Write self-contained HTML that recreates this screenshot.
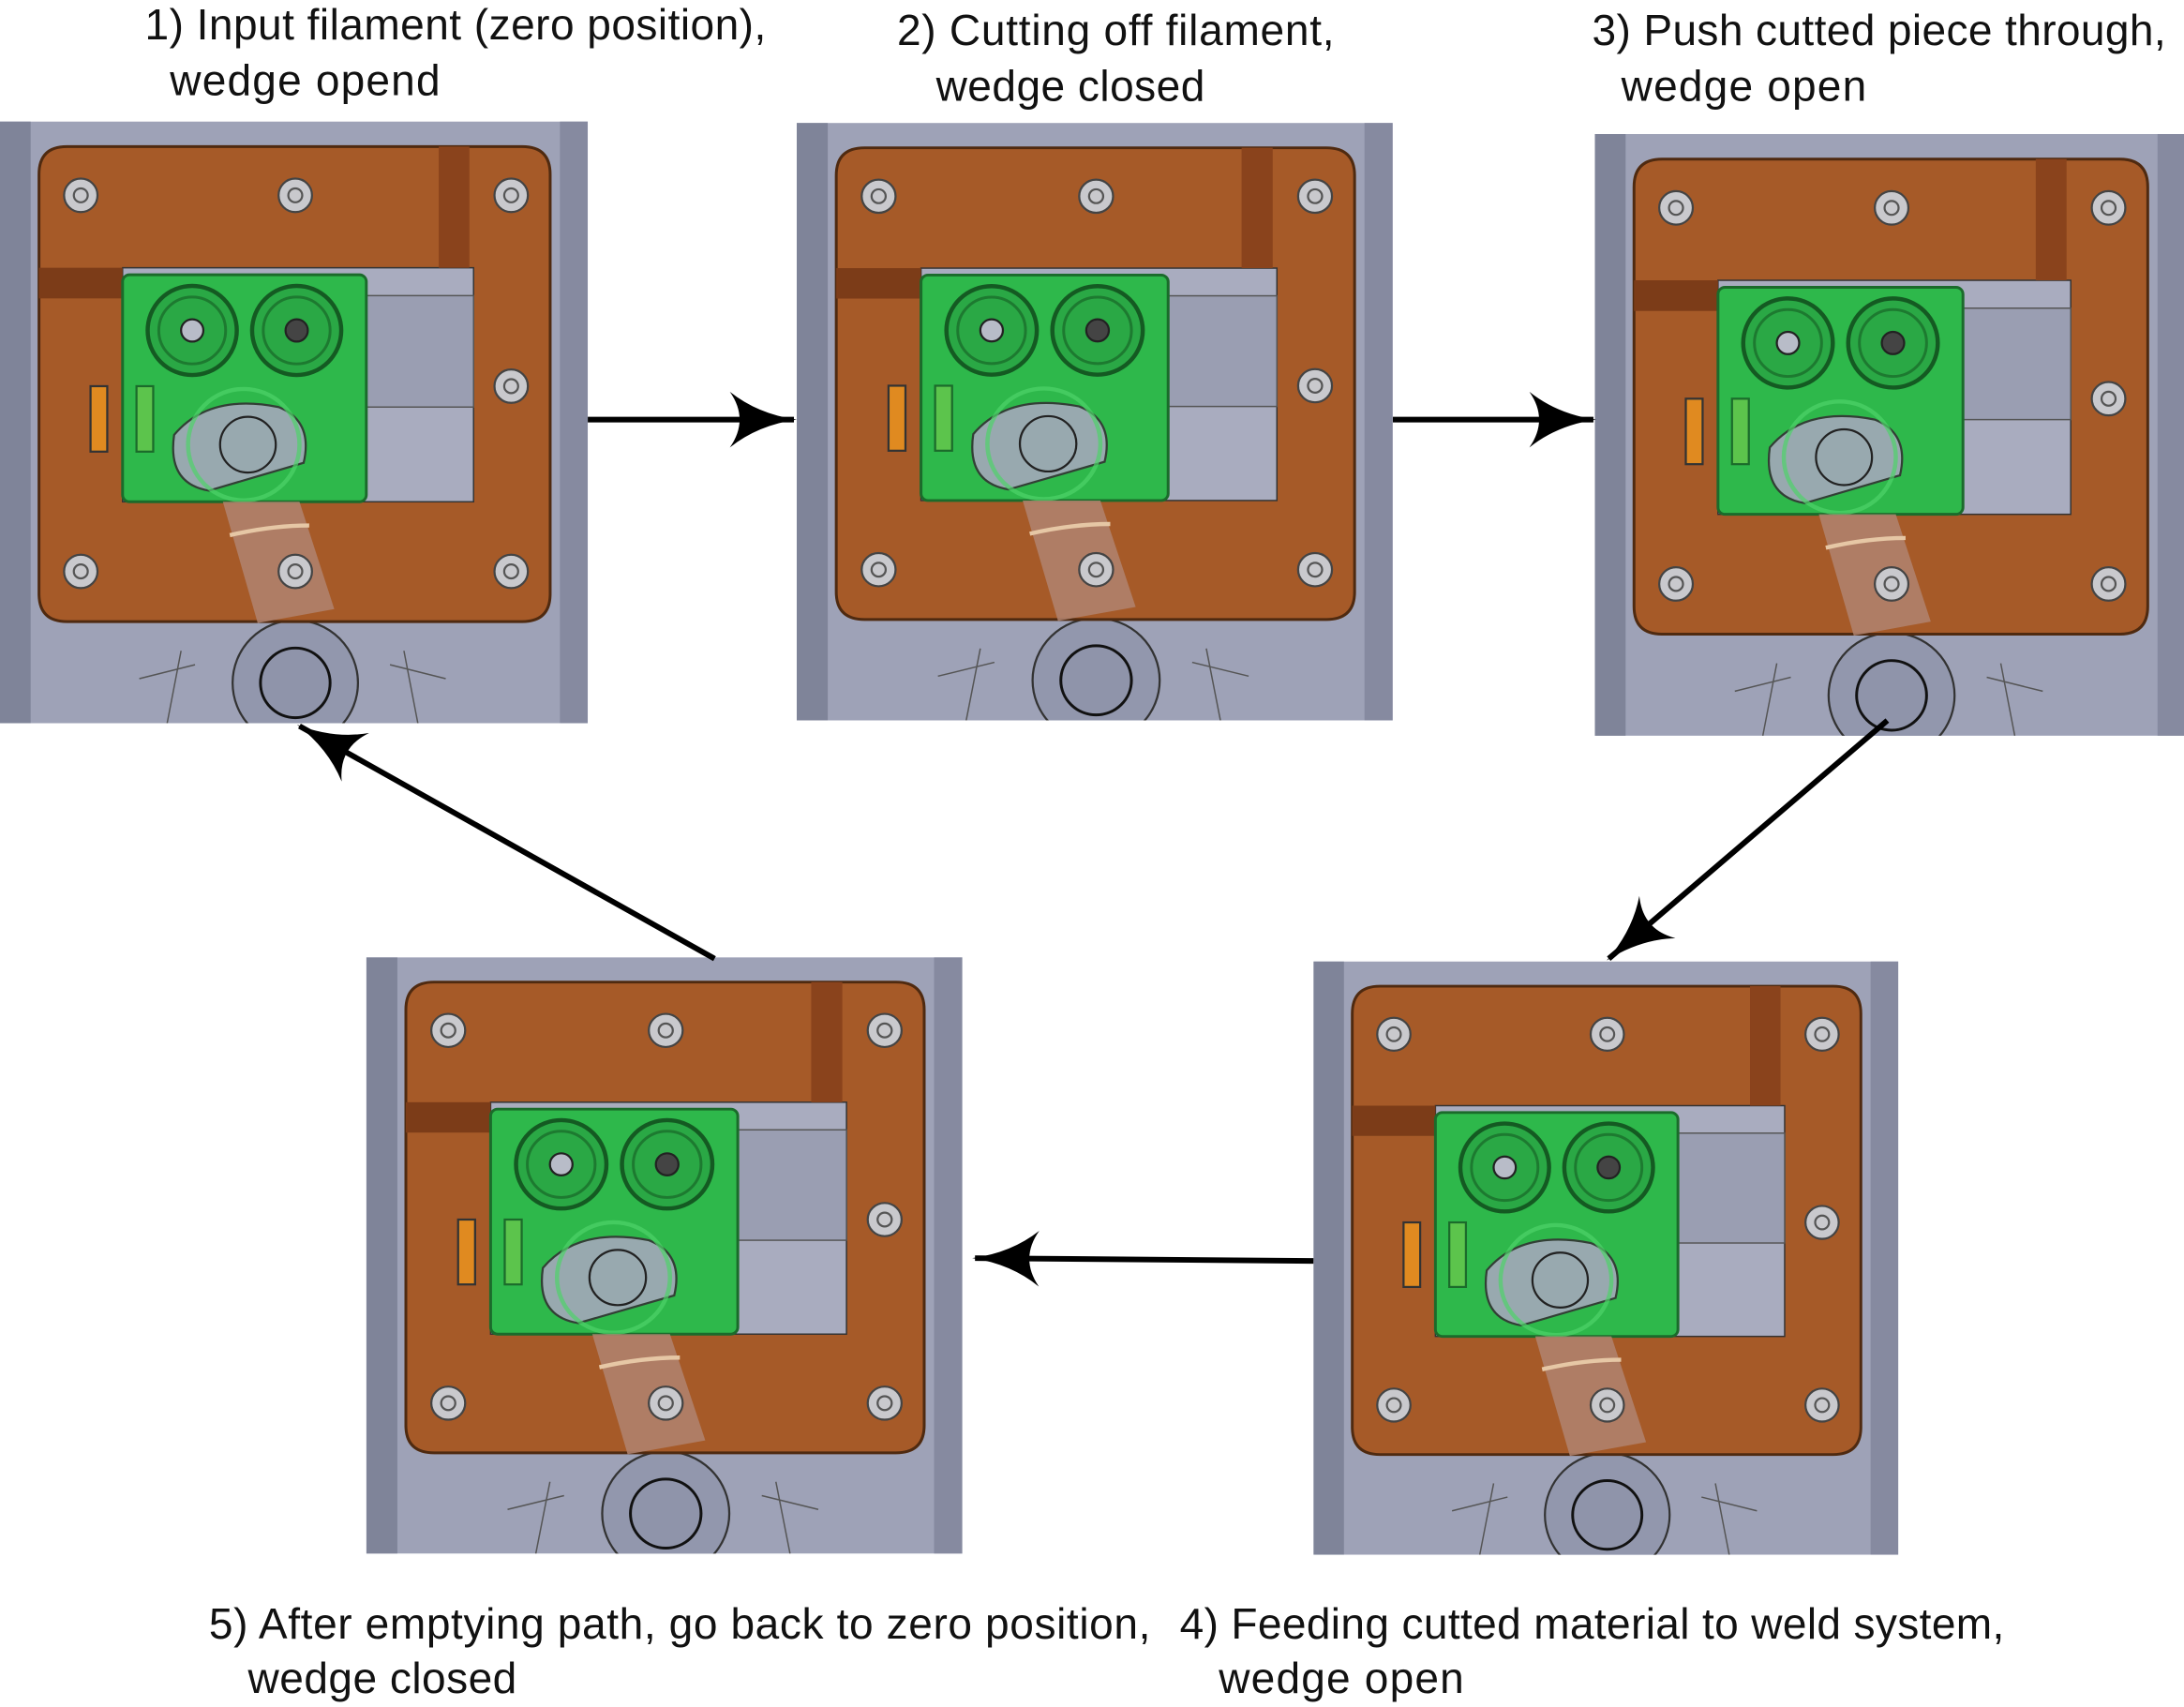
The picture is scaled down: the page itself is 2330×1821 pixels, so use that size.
<!DOCTYPE html>
<html><head><meta charset="utf-8">
<style>
html,body{margin:0;padding:0;background:#fff;}
svg{display:block;}
text{font-family:"Liberation Sans",sans-serif;font-size:31px;fill:#111;}
</style></head>
<body>
<svg width="2330" height="1821" viewBox="0 0 1568 1225" xmlns="http://www.w3.org/2000/svg">
<defs>
  <marker id="ah" viewBox="0 0 48 40" refX="46" refY="20" markerWidth="48" markerHeight="40" markerUnits="userSpaceOnUse" orient="auto">
    <path d="M0,0 Q20,16 48,20 Q20,24 0,40 Q14,20 0,0 Z" fill="#000"/>
  </marker>
  <clipPath id="pc"><rect x="0" y="0" width="422" height="432"/></clipPath>
  <g id="panel">
    <g clip-path="url(#pc)">
    <rect x="0" y="0" width="422" height="432" fill="#9ea2b7"/>
    <rect x="0" y="0" width="22" height="432" fill="#7f8499"/>
    <rect x="402" y="0" width="20" height="432" fill="#868aa0"/>
    <circle cx="212" cy="403" r="45" fill="#9297ad" stroke="#333" stroke-width="1.5"/>
    <circle cx="212" cy="403" r="25" fill="#8f94aa" stroke="#111" stroke-width="2"/>
    <path d="M120,432 L130,380 M300,432 L290,380 M100,400 L140,390 M320,400 L280,390" stroke="#555" fill="none"/>
    <path d="M28,38 Q28,18 48,18 L375,18 Q395,18 395,38 L395,339 Q395,359 375,359 L48,359 Q28,359 28,339 Z" fill="#a65a28" stroke="#4f2a10" stroke-width="2"/>
    <rect x="88" y="105" width="252" height="168" fill="#a9acbf" stroke="#333" stroke-width="1"/>
    <rect x="262" y="125" width="78" height="80" fill="#9a9eb2" stroke="#555" stroke-width="1"/>
    <rect x="315" y="18" width="22" height="87" fill="#8a431c"/>
    <rect x="28" y="105" width="60" height="22" fill="#7c3c18"/>
    <rect x="88" y="110" width="175" height="163" rx="5" fill="#2eb84b" stroke="#1b6b2b" stroke-width="2"/>
    <circle cx="138" cy="150" r="32" fill="#2aa845" stroke="#145a22" stroke-width="3"/>
    <circle cx="138" cy="150" r="24" fill="none" stroke="#1d7a30" stroke-width="2"/>
    <circle cx="138" cy="150" r="8" fill="#b8bcc8" stroke="#222" stroke-width="1.5"/>
    <circle cx="213" cy="150" r="32" fill="#2aa845" stroke="#145a22" stroke-width="3"/>
    <circle cx="213" cy="150" r="24" fill="none" stroke="#1d7a30" stroke-width="2"/>
    <circle cx="213" cy="150" r="8" fill="#444" stroke="#222" stroke-width="1.5"/>
    <path d="M125,225 Q150,195 200,205 Q225,215 218,245 L150,265 Q120,260 125,225 Z" fill="#a4a8ba" stroke="#333" stroke-width="1.5" opacity="0.9"/>
    <circle cx="178" cy="232" r="20" fill="none" stroke="#222" stroke-width="1.5"/>
    <circle cx="175" cy="232" r="40" fill="none" stroke="#4fd36a" stroke-width="3" opacity="0.7"/>
    <path d="M160,273 L215,273 L240,350 L185,360 Z" fill="#b08470" opacity="0.85"/>
    <path d="M165,297 Q195,290 222,290" stroke="#e6c7a5" stroke-width="3" fill="none"/>
    <rect x="65" y="190" width="12" height="47" fill="#e08a20" stroke="#333" stroke-width="1.5"/>
    <rect x="98" y="190" width="12" height="47" fill="#5cc44c" stroke="#1b6b2b" stroke-width="1.5"/>
    <g fill="#c9c9cd" stroke="#444" stroke-width="1.5">
      <circle cx="58" cy="53" r="12"/><circle cx="212" cy="53" r="12"/><circle cx="367" cy="53" r="12"/>
      <circle cx="367" cy="190" r="12"/><circle cx="58" cy="323" r="12"/><circle cx="212" cy="323" r="12"/><circle cx="367" cy="323" r="12"/>
    </g>
    <g fill="none" stroke="#555" stroke-width="1.5">
      <circle cx="58" cy="53" r="5"/><circle cx="212" cy="53" r="5"/><circle cx="367" cy="53" r="5"/>
      <circle cx="367" cy="190" r="5"/><circle cx="58" cy="323" r="5"/><circle cx="212" cy="323" r="5"/><circle cx="367" cy="323" r="5"/>
    </g>
    </g>
  </g>
</defs>

<use href="#panel" transform="translate(0,87)"/>
<use href="#panel" transform="translate(572,88) scale(1.014,0.993)"/>
<use href="#panel" transform="translate(1145,96) scale(1.005,1)"/>
<use href="#panel" transform="translate(943,690) scale(0.995,0.986)"/>
<use href="#panel" transform="translate(263,687) scale(1.014,0.991)"/>

<g stroke="#000" stroke-width="4" fill="none">
  <line x1="422" y1="301" x2="570" y2="301" marker-end="url(#ah)"/>
  <line x1="1000" y1="301" x2="1144" y2="301" marker-end="url(#ah)"/>
  <line x1="1355" y1="517" x2="1155" y2="688" marker-end="url(#ah)"/>
  <line x1="943" y1="905" x2="700" y2="903" marker-end="url(#ah)"/>
  <line x1="513" y1="688" x2="215" y2="521" marker-end="url(#ah)"/>
</g>

<text><tspan x="104" y="28" textLength="446">1) Input filament (zero position),</tspan><tspan x="122" y="68" textLength="194">wedge opend</tspan></text>
<text><tspan x="644" y="32" textLength="314">2) Cutting off filament,</tspan><tspan x="672" y="72" textLength="193">wedge closed</tspan></text>
<text><tspan x="1143" y="32" textLength="412">3) Push cutted piece through,</tspan><tspan x="1164" y="72" textLength="176">wedge open</tspan></text>
<text><tspan x="150" y="1176" textLength="676">5) After emptying path, go back to zero position,</tspan><tspan x="178" y="1215" textLength="193">wedge closed</tspan></text>
<text><tspan x="847" y="1176" textLength="592">4) Feeding cutted material to weld system,</tspan><tspan x="875" y="1215" textLength="176">wedge open</tspan></text>
</svg>
</body></html>
